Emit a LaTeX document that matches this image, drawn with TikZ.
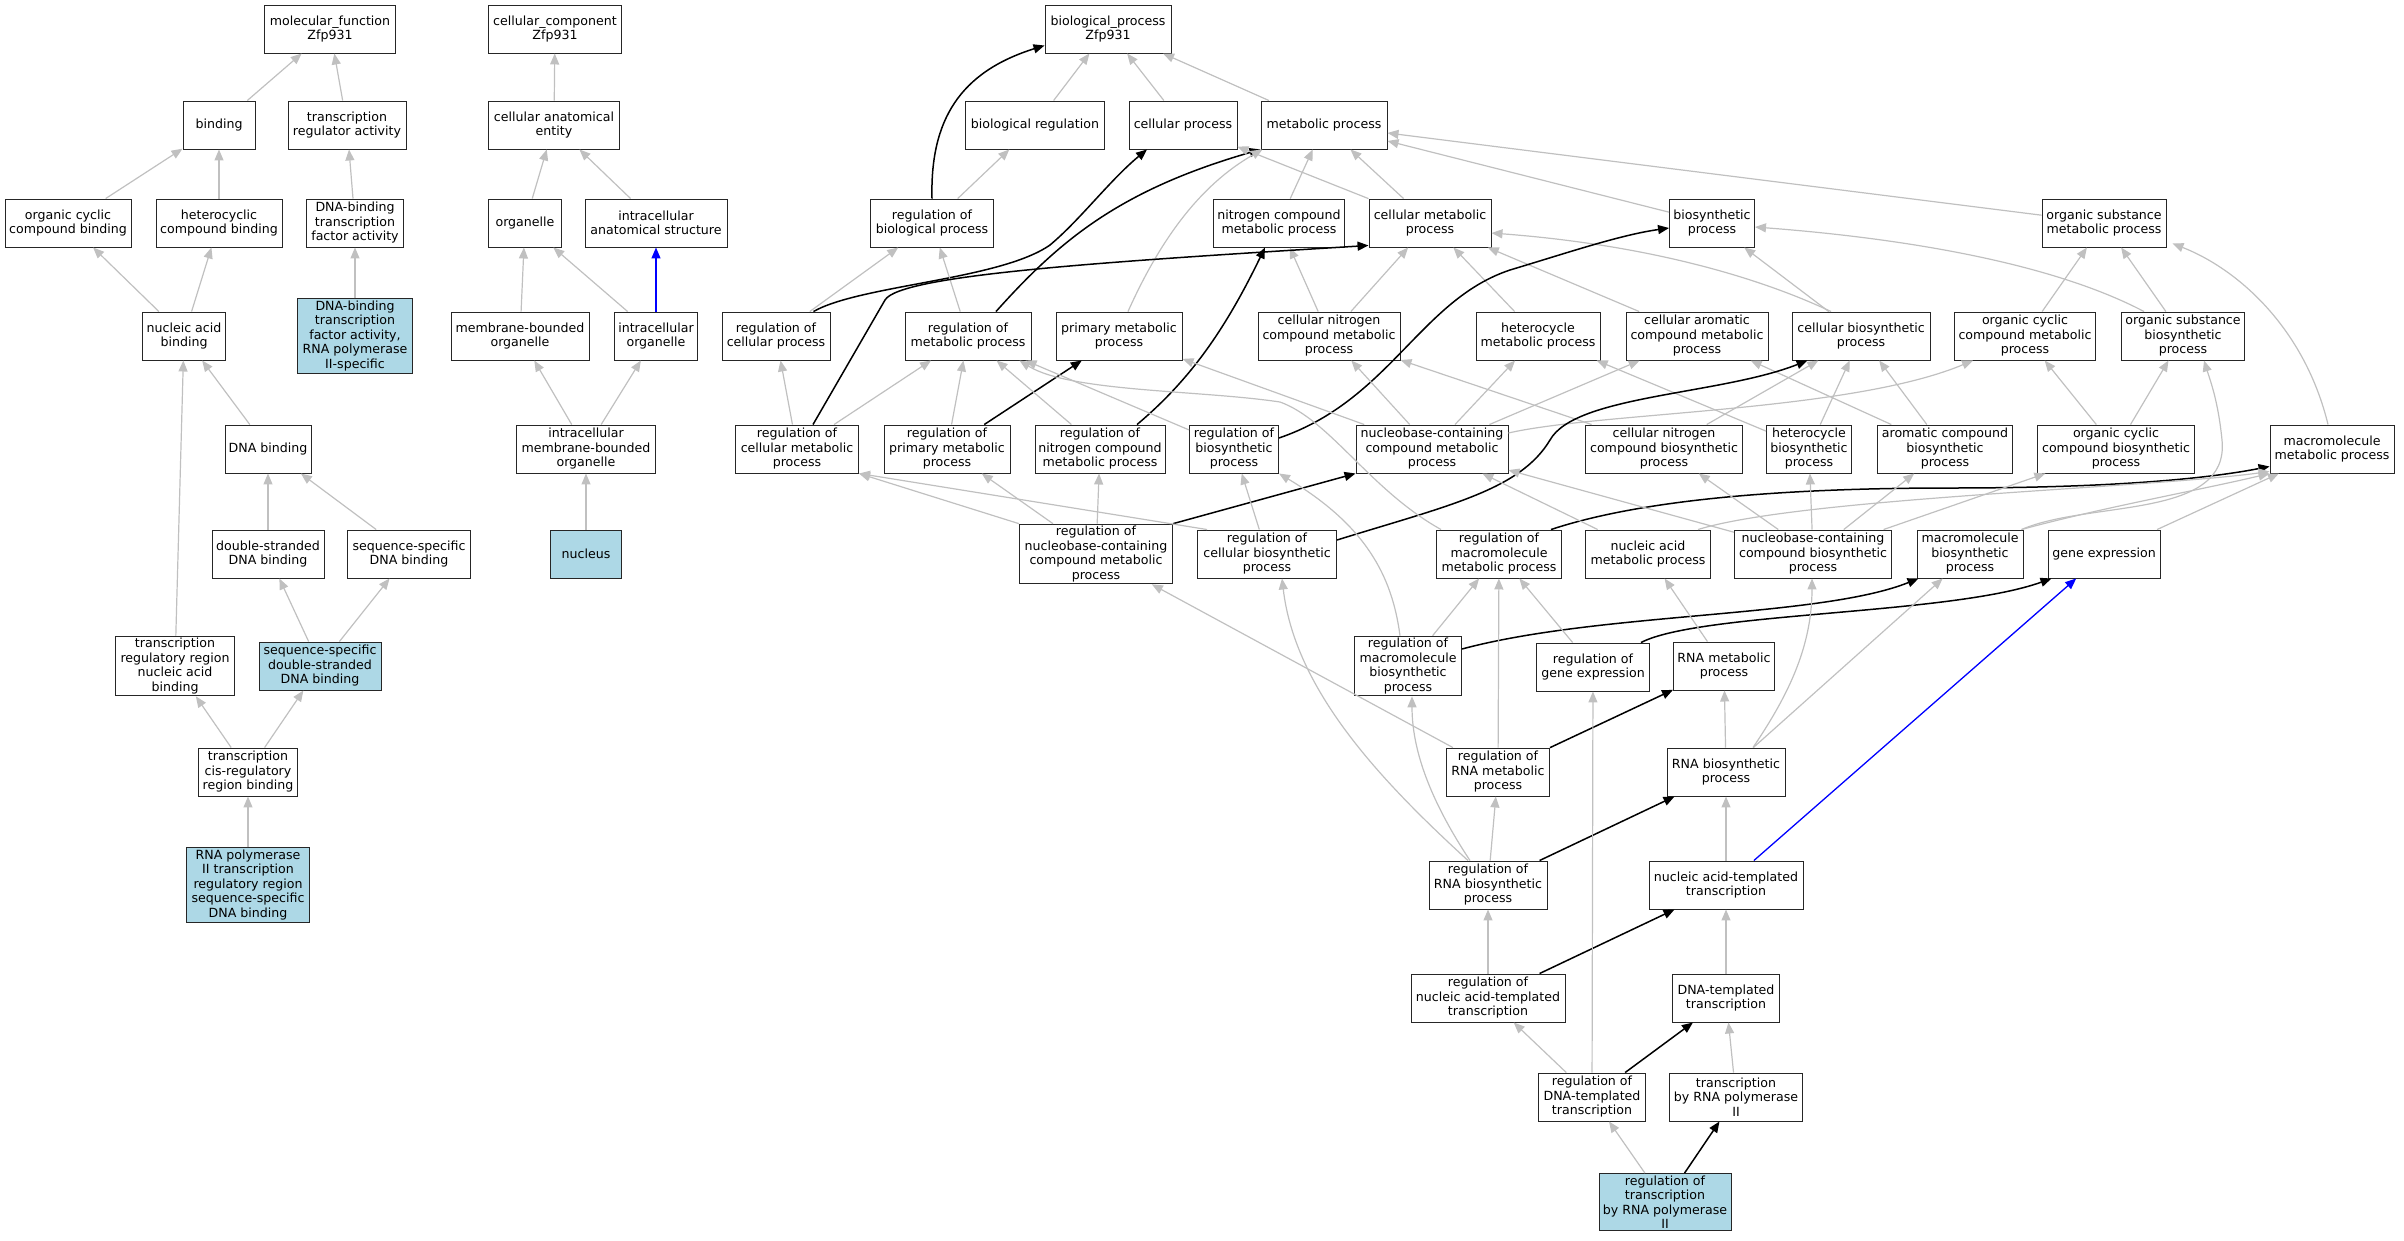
\documentclass[tikz,border=0pt]{standalone}
\usepackage{fontspec}
\setmainfont{DejaVu Sans}
\usetikzlibrary{arrows.meta}
\definecolor{termblue}{HTML}{ADD8E6}
\definecolor{isagray}{HTML}{C0C0C0}
\tikzset{
	term/.style={draw=black!85, line width=0.95pt, fill=white, align=center, inner xsep=1pt, inner ysep=2pt, minimum height=48pt, font=\fontsize{12.6}{14.5}\selectfont},
	seed/.style={term, fill=termblue},
	isa/.style={isagray, line width=1.2pt, -{Triangle[length=11pt,width=9pt]}},
	reg/.style={black, line width=1.5pt, -{Triangle[length=11pt,width=9pt]}},
	partof/.style={blue, line width=1.3pt, -{Triangle[length=11pt,width=9pt]}},
}

\begin{document}
\begin{tikzpicture}[x=1pt, y=-1pt]
		%%%%% START %%%%%
		\useasboundingbox (0,0) rectangle (2404,1240);
		
		% molecular function
		\node[term, minimum width=131pt] (mf) at (330,29) {molecular\_function\\Zfp931};
		\node[term, minimum width=72pt] (bind) at (219,125) {binding};
		\node[term, minimum width=118pt] (trra) at (347,125) {transcription\\regulator activity};
		\node[term, minimum width=126pt] (occb) at (68,223) {organic cyclic\\compound binding};
		\node[term, minimum width=126pt] (hcb) at (219,223) {heterocyclic\\compound binding};
		\node[term, minimum width=97pt] (dbtf) at (355,223) {DNA-binding\\transcription\\factor activity};
		\node[term, minimum width=83pt] (nab) at (184,336) {nucleic acid\\binding};
		\node[seed, minimum width=115pt] (dbtf2) at (355,336) {DNA-binding\\transcription\\factor activity,\\RNA polymerase\\II-specific};
		\node[term, minimum width=86pt] (dnab) at (268,449) {DNA binding};
		\node[term, minimum width=112pt] (dsdb) at (268,554) {double-stranded\\DNA binding};
		\node[term, minimum width=123pt] (ssdb) at (409,554) {sequence-specific\\DNA binding};
		\node[term, minimum width=119pt] (trrnab) at (175,666) {transcription\\regulatory region\\nucleic acid\\binding};
		\node[seed, minimum width=122pt] (ssdsdb) at (320,666) {sequence-specific\\double-stranded\\DNA binding};
		\node[term, minimum width=99pt] (tcrrb) at (248,772) {transcription\\cis-regulatory\\region binding};
		\node[seed, minimum width=123pt] (rp2b) at (248,885) {RNA polymerase\\II transcription\\regulatory region\\sequence-specific\\DNA binding};
		
		% cellular component
		\node[term, minimum width=133pt] (cc) at (555,29) {cellular\_component\\Zfp931};
		\node[term, minimum width=131pt] (cae) at (554,125) {cellular anatomical\\entity};
		\node[term, minimum width=73pt] (org) at (525,223) {organelle};
		\node[term, minimum width=142pt] (ias) at (656,223) {intracellular\\anatomical structure};
		\node[term, minimum width=138pt] (mbo) at (520,336) {membrane-bounded\\organelle};
		\node[term, minimum width=83pt] (io) at (656,336) {intracellular\\organelle};
		\node[term, minimum width=139pt] (imbo) at (586,449) {intracellular\\membrane-bounded\\organelle};
		\node[seed, minimum width=71pt] (nuc) at (586,554) {nucleus};
		
		% biological process
		\node[term, minimum width=126pt] (bp) at (1108,29) {biological\_process\\Zfp931};
		\node[term, minimum width=139pt] (breg) at (1035,125) {biological regulation};
		\node[term, minimum width=108pt] (cp) at (1183,125) {cellular process};
		\node[term, minimum width=126pt] (mp) at (1324,125) {metabolic process};
		\node[term, minimum width=123pt] (rbp) at (932,223) {regulation of\\biological process};
		\node[term, minimum width=131pt] (ncmp) at (1279,223) {nitrogen compound\\metabolic process};
		\node[term, minimum width=122pt] (cmp) at (1430,223) {cellular metabolic\\process};
		\node[term, minimum width=85pt] (bsp) at (1712,223) {biosynthetic\\process};
		\node[term, minimum width=124pt] (osmp) at (2104,223) {organic substance\\metabolic process};
		\node[term, minimum width=108pt] (rcp) at (776,336) {regulation of\\cellular process};
		\node[term, minimum width=126pt] (rmp) at (968,336) {regulation of\\metabolic process};
		\node[term, minimum width=126pt] (pmp) at (1119,336) {primary metabolic\\process};
		\node[term, minimum width=142pt] (cncmp) at (1329,336) {cellular nitrogen\\compound metabolic\\process};
		\node[term, minimum width=124pt] (hmp) at (1538,336) {heterocycle\\metabolic process};
		\node[term, minimum width=142pt] (cacmp) at (1697,336) {cellular aromatic\\compound metabolic\\process};
		\node[term, minimum width=138pt] (cbsp) at (1861,336) {cellular biosynthetic\\process};
		\node[term, minimum width=141pt] (occmp) at (2025,336) {organic cyclic\\compound metabolic\\process};
		\node[term, minimum width=123pt] (osbsp) at (2183,336) {organic substance\\biosynthetic\\process};
		\node[term, minimum width=123pt] (rcmp) at (797,449) {regulation of\\cellular metabolic\\process};
		\node[term, minimum width=126pt] (rpmp) at (947,449) {regulation of\\primary metabolic\\process};
		\node[term, minimum width=130pt] (rncmp) at (1100,449) {regulation of\\nitrogen compound\\metabolic process};
		\node[term, minimum width=89pt] (rbsp) at (1234,449) {regulation of\\biosynthetic\\process};
		\node[term, minimum width=152pt] (nccmp) at (1432,449) {nucleobase-containing\\compound metabolic\\process};
		\node[term, minimum width=157pt] (cncbsp) at (1664,449) {cellular nitrogen\\compound biosynthetic\\process};
		\node[term, minimum width=85pt] (hbsp) at (1809,449) {heterocycle\\biosynthetic\\process};
		\node[term, minimum width=135pt] (acbsp) at (1945,449) {aromatic compound\\biosynthetic\\process};
		\node[term, minimum width=157pt] (occbsp) at (2116,449) {organic cyclic\\compound biosynthetic\\process};
		\node[term, minimum width=124pt] (mmp) at (2332,449) {macromolecule\\metabolic process};
		\node[term, minimum width=153pt] (rnccmp) at (1096,554) {regulation of\\nucleobase-containing\\compound metabolic\\process};
		\node[term, minimum width=139pt] (rcbsp) at (1267,554) {regulation of\\cellular biosynthetic\\process};
		\node[term, minimum width=125pt] (rmmp) at (1499,554) {regulation of\\macromolecule\\metabolic process};
		\node[term, minimum width=125pt] (namp) at (1648,554) {nucleic acid\\metabolic process};
		\node[term, minimum width=157pt] (ncbsp) at (1813,554) {nucleobase-containing\\compound biosynthetic\\process};
		\node[term, minimum width=106pt] (mbsp) at (1970,554) {macromolecule\\biosynthetic\\process};
		\node[term, minimum width=112pt] (ge) at (2104,554) {gene expression};
		\node[term, minimum width=107pt] (rmbsp) at (1408,666) {regulation of\\macromolecule\\biosynthetic\\process};
		\node[term, minimum width=113pt] (rge) at (1593,667) {regulation of\\gene expression};
		\node[term, minimum width=101pt] (rnamet) at (1724,666) {RNA metabolic\\process};
		\node[term, minimum width=103pt] (rrnamet) at (1498,772) {regulation of\\RNA metabolic\\process};
		\node[term, minimum width=118pt] (rnabio) at (1726,772) {RNA biosynthetic\\process};
		\node[term, minimum width=118pt] (rrnabio) at (1488,885) {regulation of\\RNA biosynthetic\\process};
		\node[term, minimum width=154pt] (natt) at (1726,885) {nucleic acid-templated\\transcription};
		\node[term, minimum width=154pt] (rnatt) at (1488,998) {regulation of\\nucleic acid-templated\\transcription};
		\node[term, minimum width=107pt] (dtt) at (1726,998) {DNA-templated\\transcription};
		\node[term, minimum width=107pt] (rdtt) at (1592,1097) {regulation of\\DNA-templated\\transcription};
		\node[term, minimum width=133pt] (trp2) at (1736,1097) {transcription\\by RNA polymerase\\II};
		\node[seed, minimum width=132pt] (rtrp2) at (1665,1202) {regulation of\\transcription\\by RNA polymerase\\II};
		
		% edges, molecular function
		\draw[isa] (bind) -- (mf);
		\draw[isa] (trra) -- (mf);
		\draw[isa] (occb) -- (bind);
		\draw[isa] (hcb) -- (bind);
		\draw[isa] (dbtf) -- (trra);
		\draw[isa] (nab) -- (occb);
		\draw[isa] (nab) -- (hcb);
		\draw[isa] (dbtf2) -- (dbtf);
		\draw[isa] (dnab) -- (nab);
		\draw[isa] (trrnab) -- (nab);
		\draw[isa] (dsdb) -- (dnab);
		\draw[isa] (ssdb) -- (dnab);
		\draw[isa] (ssdsdb) -- (dsdb);
		\draw[isa] (ssdsdb) -- (ssdb);
		\draw[isa] (tcrrb) -- (trrnab);
		\draw[isa] (tcrrb) -- (ssdsdb);
		\draw[isa] (rp2b) -- (tcrrb);
		
		% edges, cellular component
		\draw[isa] (cae) -- (cc);
		\draw[isa] (org) -- (cae);
		\draw[isa] (ias) -- (cae);
		\draw[isa] (mbo) -- (org);
		\draw[isa] (io) -- (org);
		\draw[partof] (io) -- (ias);
		\draw[isa] (imbo) -- (mbo);
		\draw[isa] (imbo) -- (io);
		\draw[isa] (nuc) -- (imbo);
		
		% edges, biological process
		\draw[isa] (breg) -- (bp);
		\draw[isa] (cp) -- (bp);
		\draw[isa] (mp) -- (bp);
		\draw[isa] (rbp) -- (breg);
		\draw[reg] (rbp.north) .. controls (930,120) and (960,72) .. ([yshift=8pt]bp.south west);
		\draw[isa] (rcp) -- (rbp);
		\draw[reg] ([xshift=-17pt]rcp.north east) .. controls (860,285) and (1000,280) .. (1050,245) .. controls (1080,220) and (1110,180) .. ([xshift=-36pt]cp.south);
		\draw[isa] (rmp) -- (rbp);
		\draw[reg] ([xshift=28pt]rmp.north) .. controls (1060,240) and (1120,190) .. (mp.south west);
		\draw[isa] ([xshift=9pt]pmp.north) .. controls (1160,240) and (1200,185) .. ([xshift=2pt]mp.south west);
		\draw[isa] (ncmp) -- (mp);
		\draw[isa] (cmp) -- (mp);
		\draw[isa] (cmp) -- (cp);
		\draw[isa] (bsp) -- (mp);
		\draw[isa] (osmp) -- (mp);
		
		\draw[isa] (cncmp) -- (ncmp);
		\draw[isa] (cncmp) -- (cmp);
		\draw[isa] (hmp) -- (cmp);
		\draw[isa] (cacmp) -- (cmp);
		\draw[isa] ([xshift=-30pt]cbsp.north) .. controls (1760,278) and (1650,245) .. ([yshift=-10pt]cmp.east);
		\draw[isa] (cbsp) -- (bsp);
		\draw[isa] (occmp) -- (osmp);
		\draw[isa] (osbsp) -- (osmp);
		\draw[isa] ([xshift=-39pt]osbsp.north) .. controls (2050,262) and (1900,238) .. ([yshift=-4pt]bsp.east);
		
		\draw[isa] (rcmp) -- (rcp);
		\draw[isa] (rcmp) -- (rmp);
		\draw[reg] ([xshift=16pt]rcmp.north) -- (885,300) .. controls (900,275) and (1100,262) .. ([yshift=2pt]cmp.south west);
		\draw[isa] (rpmp) -- (rmp);
		\draw[reg] (rpmp) -- (pmp);
		\draw[isa] (rncmp) -- (rmp);
		\draw[reg] ([xshift=37pt]rncmp.north) .. controls (1190,380) and (1225,330) .. ([xshift=-14pt]ncmp.south);
		\draw[isa] (rbsp) -- (rmp);
		\draw[reg] ([yshift=11pt]rbsp.east) .. controls (1390,400) and (1420,300) .. (1510,270) .. controls (1570,252) and (1620,235) .. ([yshift=-5pt]bsp.west);
		
		\draw[isa] (nccmp) -- (pmp);
		\draw[isa] (nccmp) -- (cncmp);
		\draw[isa] (nccmp) -- (hmp);
		\draw[isa] (nccmp) -- (cacmp);
		\draw[isa] ([yshift=16pt]nccmp.east) .. controls (1600,412) and (1850,412) .. ([xshift=19pt]occmp.south west);
		\draw[isa] (cncbsp) -- (cncmp);
		\draw[isa] (cncbsp) -- (cbsp);
		\draw[isa] (hbsp) -- (hmp);
		\draw[isa] (hbsp) -- (cbsp);
		\draw[isa] (acbsp) -- (cacmp);
		\draw[isa] (acbsp) -- (cbsp);
		\draw[isa] (occbsp) -- (occmp);
		\draw[isa] (occbsp) -- (osbsp);
		\draw[isa] ([xshift=-4pt]mmp.north) .. controls (2305,330) and (2240,270) .. ([xshift=6pt,yshift=4pt]osmp.south east);
		
		\draw[isa] (rnccmp.north west) -- (rcmp.south east);
		\draw[isa] (rnccmp) -- (rpmp);
		\draw[isa] (rnccmp) -- (rncmp);
		\draw[reg] (rnccmp.north east) -- (nccmp.south west);
		\draw[isa] ([xshift=10pt]rcbsp.north west) -- (rcmp.south east);
		\draw[isa] (rcbsp) -- (rbsp);
		\draw[reg] ([yshift=14pt]rcbsp.east) .. controls (1450,505) and (1520,490) .. (1550,440) .. controls (1575,395) and (1720,395) .. ([xshift=16pt]cbsp.south west);
		\draw[isa] ([xshift=5pt]rmmp.north west) .. controls (1370,490) and (1330,420) .. (1280,402) .. controls (1200,390) and (1070,392) .. ([xshift=-12pt]rmp.south east);
		\draw[reg] ([xshift=-11pt]rmmp.north east) .. controls (1640,500) and (1780,488) .. (1950,488) .. controls (2100,488) and (2200,480) .. ([yshift=7pt]mmp.south west);
		\draw[isa] (namp) -- (nccmp);
		\draw[isa] ([xshift=-13pt]namp.north east) .. controls (1800,498) and (2150,488) .. ([yshift=2pt]mmp.south west);
		\draw[isa] (ncbsp) -- (nccmp);
		\draw[isa] (ncbsp) -- (cncbsp);
		\draw[isa] (ncbsp) -- (hbsp);
		\draw[isa] (ncbsp) -- (acbsp);
		\draw[isa] (ncbsp) -- (occbsp);
		\draw[isa] ([xshift=-2pt]mbsp.north east) .. controls (2090,500) and (2230,520) .. (2222,440) .. controls (2218,400) and (2210,380) .. ([xshift=21pt]osbsp.south);
		\draw[isa] ([xshift=-2pt]mbsp.north east) .. controls (2100,508) and (2200,490) .. (mmp.south west);
		\draw[isa] (ge) -- (mmp);
		
		\draw[isa] ([xshift=-8pt]rmbsp.north) .. controls (1392,575) and (1365,525) .. (rbsp.south east);
		\draw[isa] (rmbsp) -- (rmmp);
		\draw[reg] ([yshift=17pt]rmbsp.east) .. controls (1600,612) and (1820,618) .. ([xshift=2pt]mbsp.south west);
		\draw[isa] (rge) -- (rmmp);
		\draw[reg] ([xshift=-9pt]rge.north east) .. controls (1700,612) and (1950,615) .. ([xshift=4pt]ge.south west);
		\draw[isa] (rnamet) -- (namp);
		\draw[isa] (rrnamet) -- (rnccmp);
		\draw[isa] (rrnamet) -- (rmmp);
		\draw[reg] (rrnamet) -- (rnamet);
		\draw[isa] (rnabio) -- (rnamet);
		\draw[isa] ([xshift=27pt]rnabio.north) .. controls (1785,700) and (1812,650) .. ([xshift=-1pt]ncbsp.south);
		\draw[isa] (rnabio) -- (mbsp);
		\draw[isa] ([xshift=-20pt]rrnabio.north) .. controls (1380,780) and (1295,690) .. ([xshift=15pt]rcbsp.south);
		\draw[isa] ([xshift=-18pt]rrnabio.north) .. controls (1430,800) and (1412,750) .. ([xshift=4pt]rmbsp.south);
		\draw[isa] (rrnabio) -- (rrnamet);
		\draw[reg] (rrnabio) -- (rnabio);
		\draw[isa] (natt) -- (rnabio);
		\draw[partof] (natt) -- (ge);
		\draw[isa] (rnatt) -- (rrnabio);
		\draw[reg] (rnatt) -- (natt);
		\draw[isa] (dtt) -- (natt);
		\draw[isa] (rdtt) -- (rnatt);
		\draw[isa] (rdtt) -- (rge);
		\draw[reg] (rdtt) -- (dtt);
		\draw[isa] (trp2) -- (dtt);
		\draw[isa] (rtrp2) -- (rdtt);
		\draw[reg] (rtrp2) -- (trp2);
		
		%%%%% END %%%%%
\end{tikzpicture}
\end{document}
